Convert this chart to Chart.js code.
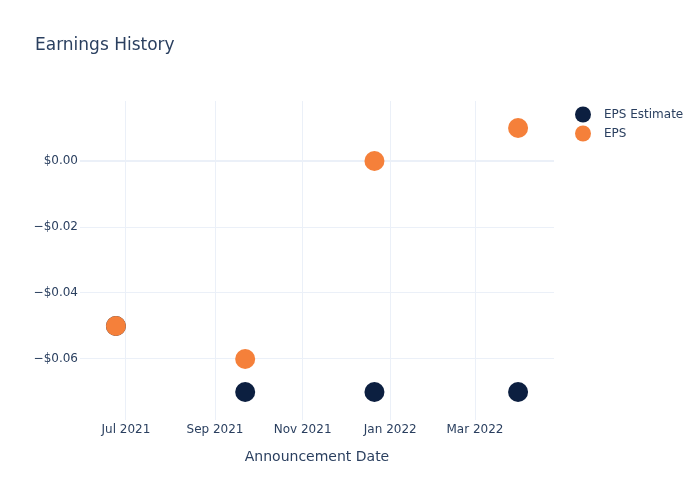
<!DOCTYPE html>
<html>
<head>
<meta charset="utf-8">
<script src="https://cdn.jsdelivr.net/npm/chart.js@4"></script>
<style>
  html, body { margin: 0; padding: 0; background: #fff; }
  #wrap { width: 700px; height: 500px; }
</style>
</head>
<body>
<div id="wrap"><canvas id="earnings"></canvas></div>
<script>
// announcement dates (UTC)
const dates = [Date.UTC(2021, 5, 24), Date.UTC(2021, 8, 22), Date.UTC(2021, 11, 21), Date.UTC(2022, 2, 31)];
const epsEstimate = [-0.05, -0.07, -0.07, -0.07];
const eps = [-0.05, -0.06, 0.00, 0.01];

const xTicks = [Date.UTC(2021, 6, 1), Date.UTC(2021, 8, 1), Date.UTC(2021, 10, 1), Date.UTC(2022, 0, 1), Date.UTC(2022, 2, 1)];
const xTickLabels = ["Jul 2021", "Sep 2021", "Nov 2021", "Jan 2022", "Mar 2022"];
const yTicks = [0, -0.02, -0.04, -0.06];

const textColor = "#2a3f5f";
const gridColor = "#ebf0f8";
const fontFamily = "'DejaVu Sans', sans-serif";

function points(vals) {
    return vals.map(function(v, i) { return { x: dates[i], y: v }; });
}

function fmtMoney(v) {
    const s = "$" + Math.abs(v).toFixed(2);
    return v < -1e-9 ? "\u2212" + s : s;
}

const extras = {
    id: "extras",
    afterDraw: function(chart) {
        const ctx = chart.ctx;
        ctx.save();
        ctx.fillStyle = textColor;
        ctx.textBaseline = "middle";
        ctx.font = "17px " + fontFamily;
        ctx.fillText("Earnings History", 35, 45.5);

        ctx.font = "12px " + fontFamily;
        chart.data.datasets.forEach(function(ds, i) {
            const y = 114.5 + i * 19;
            ctx.beginPath();
            ctx.arc(583, y, 8, 0, Math.PI * 2);
            ctx.fillStyle = ds.backgroundColor;
            ctx.fill();
            ctx.fillStyle = textColor;
            ctx.fillText(ds.label, 604, y);
        });
        ctx.restore();
    }
};

new Chart(document.getElementById("earnings"), {
    type: "scatter",
    data: {
        datasets: [
            {
                label: "EPS Estimate",
                data: points(epsEstimate),
                backgroundColor: "#0c1f40",
                borderWidth: 0,
                pointRadius: 10,
                pointHoverRadius: 10,
                order: 1
            },
            {
                label: "EPS",
                data: points(eps),
                backgroundColor: "#f5803a",
                borderWidth: 0,
                pointRadius: 10,
                pointHoverRadius: 10,
                order: 0
            }
        ]
    },
    options: {
        responsive: true,
        maintainAspectRatio: false,
        animation: false,
        layout: { padding: { left: 0, right: 146, top: 101, bottom: 0 } },
        plugins: {
            legend: { display: false },
            title: { display: false },
            tooltip: { enabled: false }
        },
        scales: {
            x: {
                type: "linear",
                min: Date.UTC(2021, 4, 30),
                max: Date.UTC(2022, 3, 25),
                afterFit: function(scale) { scale.height = 80; },
                afterBuildTicks: function(scale) {
                    scale.ticks = xTicks.map(function(v) { return { value: v }; });
                },
                border: { display: false },
                grid: { color: gridColor, drawTicks: false },
                ticks: {
                    padding: 3,
                    color: textColor,
                    font: { family: fontFamily, size: 12 },
                    maxRotation: 0,
                    autoSkip: false,
                    callback: function(v) {
                        const i = xTicks.indexOf(v);
                        return i >= 0 ? xTickLabels[i] : "";
                    }
                },
                title: {
                    display: true,
                    text: "Announcement Date",
                    color: textColor,
                    font: { family: fontFamily, size: 14 },
                    padding: { top: 0, bottom: 34 }
                }
            },
            y: {
                min: -0.0785,
                max: 0.0182,
                afterFit: function(scale) { scale.width = 80; },
                afterBuildTicks: function(scale) {
                    scale.ticks = yTicks.map(function(v) { return { value: v }; });
                },
                border: { display: false },
                grid: {
                    color: gridColor,
                    drawTicks: false,
                    lineWidth: function(c) { return c.tick && Math.abs(c.tick.value) < 1e-9 ? 2 : 1; }
                },
                ticks: {
                    padding: 2,
                    color: textColor,
                    font: { family: fontFamily, size: 12 },
                    callback: function(v) { return fmtMoney(v); }
                }
            }
        }
    },
    plugins: [extras]
});
</script>
</body>
</html>
